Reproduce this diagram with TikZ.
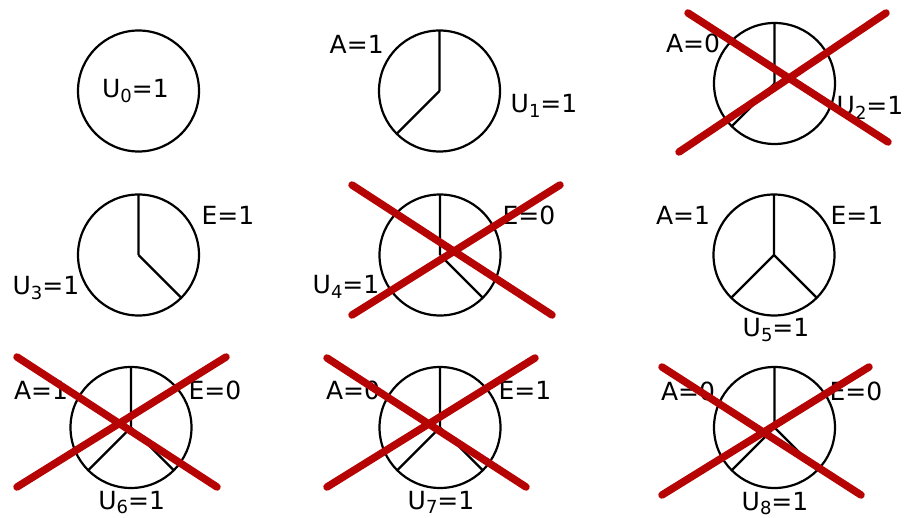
\documentclass[tikz,border=0pt]{standalone}
\usepackage{fontspec}
\setmainfont{DejaVu Sans}
\newcommand\sbx[1]{\raisebox{-4.5pt}{\fontsize{18}{18}\selectfont #1}}
\definecolor{xred}{RGB}{182,4,4}
\begin{document}
\begin{tikzpicture}[x=1pt,y=-1pt,
  pie/.style={circle,draw,line width=2.2pt,minimum size=121pt,inner sep=0pt,outer sep=0pt},
  spoke/.style={line width=2.2pt},
  lbl/.style={anchor=base,inner sep=0pt,font=\fontsize{25}{30}\selectfont},
  cross/.style={line width=7.5pt,draw=xred,line cap=round}]
\fill[white] (0,0) rectangle (915,518);
\useasboundingbox (0,0) rectangle (915,518);
% row 1
\node[pie] (c0) at (138.5,91) {};
\node[pie] (c1) at (439.5,91) {};
\node[pie] (c2) at (774.5,83.5) {};
\draw[spoke] (c1.center) -- (c1.north) (c1.center) -- (c1.225);
\draw[spoke] (c2.center) -- (c2.north) (c2.center) -- (c2.225);
% row 2
\node[pie] (c3) at (138.5,255) {};
\node[pie] (c4) at (440,255) {};
\node[pie] (c5) at (774,255) {};
\draw[spoke] (c3.center) -- (c3.north) (c3.center) -- (c3.315);
\draw[spoke] (c4.center) -- (c4.north) (c4.center) -- (c4.315);
\draw[spoke] (c5.center) -- (c5.north) (c5.center) -- (c5.225) (c5.center) -- (c5.315);
% row 3
\node[pie] (c6) at (131,427.5) {};
\node[pie] (c7) at (440,427.5) {};
\node[pie] (c8) at (774.5,427.5) {};
\foreach \c in {c6,c7,c8}{
  \draw[spoke] (\c.center) -- (\c.north) (\c.center) -- (\c.225) (\c.center) -- (\c.315);
}
% labels
\node[lbl] (u0) at (135.5,98) {U\sbx{0}=1};
\node[lbl] (a1) at (356.7,54) {A=1};
\node[lbl] (u1) at (544,113) {U\sbx{1}=1};
\node[lbl] (a2) at (693,53) {A=0};
\node[lbl] (u2) at (870,115) {U\sbx{2}=1};
\node[lbl] (e3) at (228,225) {E=1};
\node[lbl] (u3) at (46,295) {U\sbx{3}=1};
\node[lbl] (e4) at (529,225) {E=0};
\node[lbl] (u4) at (346,294) {U\sbx{4}=1};
\node[lbl] (a5) at (683,225) {A=1};
\node[lbl] (e5) at (857,225) {E=1};
\node[lbl] (u5) at (776,337) {U\sbx{5}=1};
\node[lbl] (a6) at (41,399) {A=1};
\node[lbl] (e6) at (215,399) {E=0};
\node[lbl] (u6) at (131.7,509) {U\sbx{6}=1};
\node[lbl] (a7) at (353,399) {A=0};
\node[lbl] (e7) at (525,399) {E=1};
\node[lbl] (u7) at (441,509) {U\sbx{7}=1};
\node[lbl] (a8) at (688,400) {A=0};
\node[lbl] (e8) at (856,400) {E=0};
\node[lbl] (u8) at (775,510) {U\sbx{8}=1};
% crosses
\draw[cross] (688,13) -- (888,142) (679,152) -- (886,13);
\draw[cross] (352,185) -- (552,315) (352,315) -- (560,185);
\draw[cross] (17,357) -- (217,487) (17,487) -- (226,357);
\draw[cross] (327,358) -- (526,487) (327,487) -- (535,358);
\draw[cross] (662,367) -- (861,495) (662,495) -- (869,367);
\end{tikzpicture}
\end{document}
